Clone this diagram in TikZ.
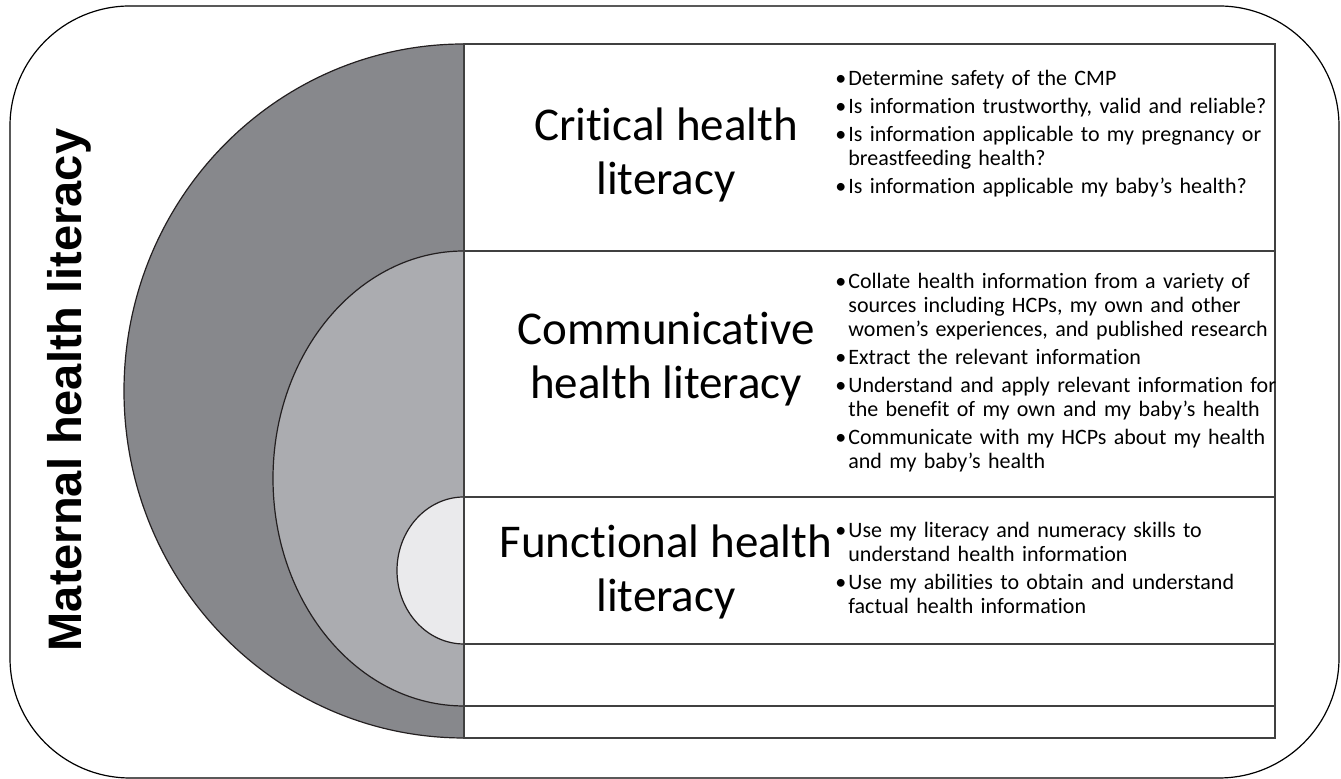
\documentclass[tikz,border=0pt]{standalone}
\usepackage{fontspec}
\setmainfont{Carlito}[Ligatures=NoCommon]
\newfontfamily\titlefont{Liberation Sans}
\definecolor{darkdisc}{HTML}{87888C}
\definecolor{middisc}{HTML}{ABACB0}
\definecolor{lightdisc}{HTML}{EAEAEC}
\definecolor{rowgray}{HTML}{404040}
\definecolor{arcblack}{HTML}{231F20}
\newcommand{\bitem}[1]{\par\hyphenpenalty=10000\hangindent=6.5pt\hangafter=1\noindent
  \makebox[6.5pt][l]{\textbullet}#1\par}
\begin{document}
\begin{tikzpicture}
[x=0.5pt, y=0.5pt,
  rowdecorate/.style={draw=rowgray, line width=0.75pt},
  arcdecorate/.style={draw=arcblack, line width=0.6pt},
  headdecorate/.style={font=\fontsize{23.5}{27}\selectfont, align=center, inner sep=0pt},
  listdecorate/.style={font=\fontsize{11}{12}\selectfont,
    text width=226pt, align=left, anchor=west, inner sep=0pt}]
\useasboundingbox (0,0) rectangle (1341,779);
%% outer frame
\draw[black, line width=0.6pt, rounded corners=60pt] (10,1) rectangle (1339,773);
%% half discs
\foreach \fillcolor/\yc/\rx/\ry in {darkdisc/388/340/347, middisc/300.5/191/227.5,
  lightdisc/208.5/67/73.5}
{
  \filldraw[fill=\fillcolor, arcdecorate] (464,\yc+\ry)
    arc[start angle=90, end angle=270, x radius=\rx, y radius=\ry] -- cycle;
}
%% rows
\foreach \top/\bottom in {735/528, 528/282, 282/135, 135/73, 73/41}
{
  \draw[rowdecorate] (464,\top) rectangle (1275,\bottom);
}
%% title
\node (title) at (69,389) [rotate=90, inner sep=0pt,
  font=\titlefont\bfseries\fontsize{23.5}{27}\selectfont] {Maternal health literacy};
%% headings
\node (critical) at (666,624) [headdecorate] {Critical health\\literacy};
\node (communicative) at (666,420) [headdecorate] {Communicative\\health literacy};
\node (functional) at (666,207) [headdecorate] {Functional health\\literacy};
%% bullet lists
\node (criticallist) at (835,650) [listdecorate] {%
  \bitem{Determine safety of the CMP}\vspace{2pt}
  \bitem{Is information trustworthy, valid and reliable?}\vspace{2pt}
  \bitem{Is information applicable to my pregnancy or\newline breastfeeding health?}\vspace{2pt}
  \bitem{Is information applicable my baby’s health?}};
\node (communicativelist) at (835,411) [listdecorate] {%
  \bitem{Collate health information from a variety of\newline sources including HCPs, my own and other\newline women’s experiences, and published research}\vspace{2pt}
  \bitem{Extract the relevant information}\vspace{2pt}
  \bitem{Understand and apply relevant information for\newline the benefit of my own and my baby’s health}\vspace{2pt}
  \bitem{Communicate with my HCPs about my health\newline and my baby’s health}};
\node (functionallist) at (835,215) [listdecorate] {%
  \bitem{Use my literacy and numeracy skills to\newline understand health information}\vspace{2pt}
  \bitem{Use my abilities to obtain and understand\newline factual health information}};
\end{tikzpicture}
\end{document}
